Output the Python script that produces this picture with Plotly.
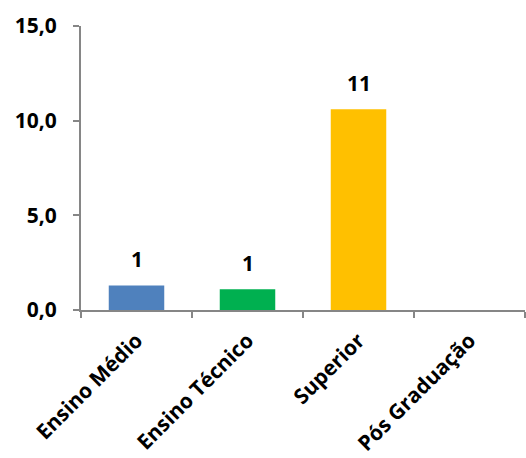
import plotly.graph_objects as go

categories = ["Ensino Médio", "Ensino Técnico", "Superior", "Pós Graduação"]
values = [1.3, 1.1, 10.6, 0.0]
colors = ["#4F81BD", "#00B050", "#FFC000", "#8064A2"]
y_ticks = [0, 5, 10, 15]

FONT = "Open Sans"
SIZE = 21

fig = go.Figure()
fig.add_trace(go.Bar(
    x=categories, y=values, marker_color=colors, width=0.5,
    marker_line_width=0, showlegend=False, hoverinfo="x+y",
))

for c, v in zip(categories, values):
    if v > 0:
        fig.add_annotation(x=c, y=v, text=f"{round(v)}", showarrow=False,
                           yanchor="middle", yshift=26,
                           font=dict(family=FONT, size=SIZE, color="#000000", weight="bold"))

fig.update_layout(
    width=526, height=458,
    margin=dict(l=81, r=1, t=26, b=148),
    plot_bgcolor="white", paper_bgcolor="white",
    separators=",.",
    font=dict(family=FONT, size=SIZE, color="#000000"),
    bargap=0.5,
)
fig.update_xaxes(
    type="category", tickangle=-45, showline=True, linecolor="#868686", linewidth=2,
    ticks="outside", tickson="boundaries", ticklen=6, tickcolor="#868686", tickwidth=2,
    ticklabelstandoff=8, automargin=False,
    showgrid=False, tickfont=dict(family=FONT, size=21, color="#000000", weight="bold"),
)
fig.update_yaxes(
    range=[0, 15], tickvals=y_ticks, tickformat=".1f",
    showline=True, linecolor="#868686", linewidth=2,
    ticks="outside", ticklen=6, tickcolor="#868686", tickwidth=2,
    ticklabelstandoff=12, automargin=False,
    showgrid=False, zeroline=False,
    tickfont=dict(family=FONT, size=SIZE, color="#000000", weight="bold"),
)

fig.write_html("out.html")
